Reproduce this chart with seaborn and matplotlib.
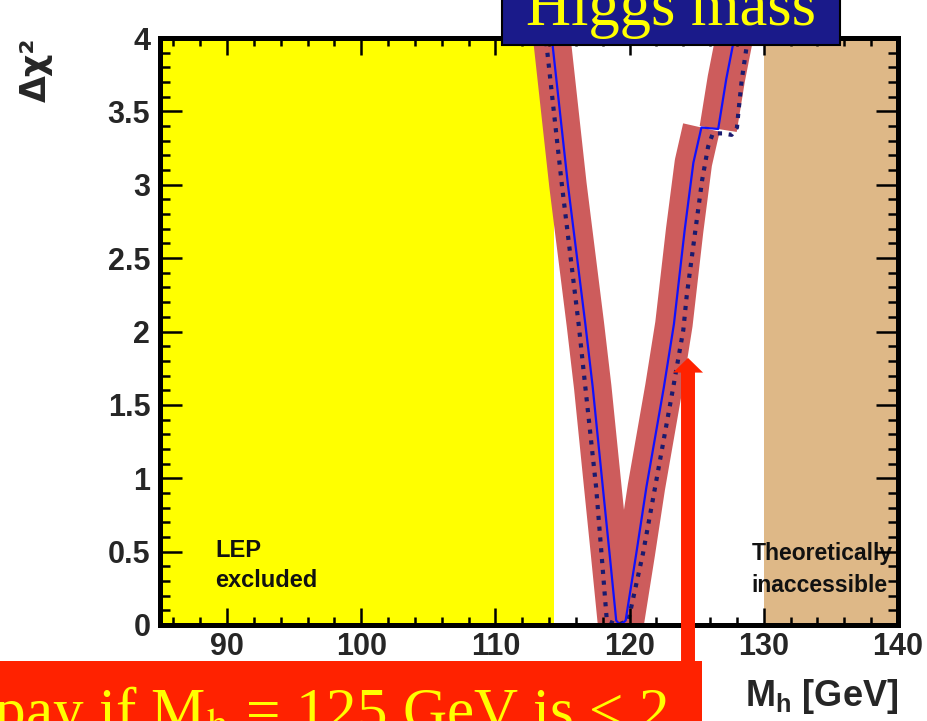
import numpy as np
import pandas as pd
import matplotlib
matplotlib.use('Agg')
import matplotlib.pyplot as plt
from matplotlib.patches import Rectangle
from matplotlib.ticker import MultipleLocator
import seaborn as sns

# fit curve (solid blue) and the band drawn around it
mh_fit = [113.8, 114.2, 115.4, 116.7, 117.25, 118.0, 118.5, 119.0, 119.3, 119.7,
          120.5, 121.25, 122.55, 123.3, 124.1, 124.75, 125.35, 126.6, 127.2, 127.8, 128.4]
chi_fit = [4.3, 4.0, 3.0, 2.05, 1.62, 0.94, 0.49, 0.03, 0.0, 0.03,
           0.49, 0.94, 1.62, 2.05, 2.69, 3.15, 3.39, 3.38, 3.72, 4.0, 4.3]
band_break = 17  # the band is broken at the kink near 3.4

# second fit (dotted navy)
mh_dot = [113.35, 113.75, 114.95, 116.2, 116.7, 117.5, 117.9, 118.3, 119.1, 119.9,
          121.0, 121.9, 123.25, 124.0, 124.25, 124.9, 125.4, 125.85, 126.2, 126.9,
          127.6, 128.0, 128.1, 128.35, 128.7, 128.85, 129.1]
chi_dot = [4.3, 4.0, 3.0, 2.05, 1.62, 0.94, 0.49, 0.03, 0.0, 0.03,
           0.49, 0.94, 1.62, 2.01, 2.24, 2.69, 3.03, 3.26, 3.35, 3.35,
           3.34, 3.39, 3.49, 3.71, 3.93, 4.0, 4.3]

lep_limit = 114.4
theory_limit = 130.0
x_range = (85, 140)
y_range = (0, 4)
x_ticks = [90, 100, 110, 120, 130, 140]
y_ticks = [0, 0.5, 1, 1.5, 2, 2.5, 3, 3.5, 4]
y_ticklabels = ['0', '0.5', '1', '1.5', '2', '2.5', '3', '3.5', '4']
arrow_mh = 124.35
arrow_chi = 1.82

df_fit = pd.DataFrame({'mh': mh_fit, 'chi2': chi_fit})
df_dot = pd.DataFrame({'mh': mh_dot, 'chi2': chi_dot})

sns.set_theme(style='ticks')
plt.rcParams['font.family'] = ['Liberation Sans', 'DejaVu Sans']
plt.rcParams['mathtext.fontset'] = 'custom'
plt.rcParams['mathtext.rm'] = 'Liberation Sans'
plt.rcParams['mathtext.bf'] = 'Liberation Sans:bold'
plt.rcParams['mathtext.it'] = 'Liberation Sans:italic'

fig = plt.figure(figsize=(9.27, 7.21), dpi=100)
fig.patch.set_facecolor('white')
ax = fig.add_axes([160 / 927, 1 - 625 / 721, 738 / 927, 587 / 721])
ax.set_facecolor('white')

ax.axvspan(x_range[0], lep_limit, color='#ffff00', lw=0, zorder=0.5)
ax.axvspan(theory_limit, x_range[1], color='#deb887', lw=0, zorder=0.5)

# theory band, in two pieces
for part in (df_fit.iloc[:band_break], df_fit.iloc[band_break:]):
    sns.lineplot(data=part, x='mh', y='chi2', sort=False, estimator=None, ax=ax,
                 color='#cd5c5c', lw=27, solid_capstyle='butt', solid_joinstyle='round', zorder=2)
sns.lineplot(data=df_dot, x='mh', y='chi2', sort=False, estimator=None, ax=ax,
             color='#1a1a6e', lw=3.0, linestyle=(0, (1, 1.6)), zorder=3)
sns.lineplot(data=df_fit, x='mh', y='chi2', sort=False, estimator=None, ax=ax,
             color='#1010ff', lw=1.6, zorder=4)

ax.set_xlim(*x_range)
ax.set_ylim(*y_range)
ax.set_xticks(x_ticks)
ax.set_yticks(y_ticks)
ax.set_yticklabels(y_ticklabels)
ax.xaxis.set_minor_locator(MultipleLocator(2))
ax.yaxis.set_minor_locator(MultipleLocator(0.1))
ax.tick_params(which='both', direction='in', top=True, right=True, width=1.8, color='black')
ax.tick_params(axis='x', which='major', length=12, pad=5)
ax.tick_params(axis='x', which='minor', length=6)
ax.tick_params(axis='y', which='major', length=16, pad=7)
ax.tick_params(axis='y', which='minor', length=7)
for lab in ax.get_xticklabels() + ax.get_yticklabels():
    lab.set_fontsize(22)
    lab.set_fontweight('bold')
for s in ax.spines.values():
    s.set_linewidth(3.6)
    s.set_color('black')
    s.set_zorder(10)
ax.xaxis.set_zorder(10)
ax.yaxis.set_zorder(10)
ax.set_xlabel('')
ax.set_ylabel('')

ax.text(89.1, 0.46, 'LEP', fontsize=17, fontweight='bold', color='#111111', va='baseline', zorder=6)
ax.text(89.1, 0.26, 'excluded', fontsize=17, fontweight='bold', color='#111111', va='baseline', zorder=6)
ax.text(129.1, 0.44, 'Theoretically', fontsize=16.5, fontweight='bold', color='#111111', va='baseline', zorder=6)
ax.text(129.1, 0.225, 'inaccessible', fontsize=16.5, fontweight='bold', color='#111111', va='baseline', zorder=6)

ax.text(1.0, -0.138, r'M$_\mathbf{h}$ [GeV]', transform=ax.transAxes, ha='right', va='baseline',
        fontsize=26, fontweight='bold', clip_on=False)
fig.text(0.039, 0.903, 'Δχ²', rotation=90, ha='center', va='center', fontsize=25,
         fontweight='bold', family=['DejaVu Sans'])

# slide annotations
ax.arrow(arrow_mh, -0.35, 0, arrow_chi + 0.35, width=1.04, head_width=2.24, head_length=0.1,
         length_includes_head=True, color='#ff2200', lw=0, clip_on=False, zorder=20)

fig.patches.append(Rectangle((0, 0), 702 / 927, (721 - 661) / 721, transform=fig.transFigure,
                             facecolor='#ff2200', edgecolor='none', zorder=5))
fig.text(668 / 927, -9 / 721, r'Price to pay if M$_\mathrm{h}$ = 125 GeV is < 2', ha='right',
         va='baseline', fontsize=44, color='#ffff00', family=['Liberation Serif'],
         math_fontfamily='stix', zorder=6)

fig.patches.append(Rectangle((502 / 927, 1 - 45 / 721), 338 / 927, 0.2, transform=fig.transFigure,
                             facecolor='#1a1a8a', edgecolor='black', lw=1.5, zorder=5))
fig.text(671 / 927, 1 - 25 / 721, 'Higgs mass', ha='center', va='baseline', fontsize=45,
         color='#ffff00', family=['Liberation Serif'], zorder=6)

fig.savefig('out.png', dpi=100)
